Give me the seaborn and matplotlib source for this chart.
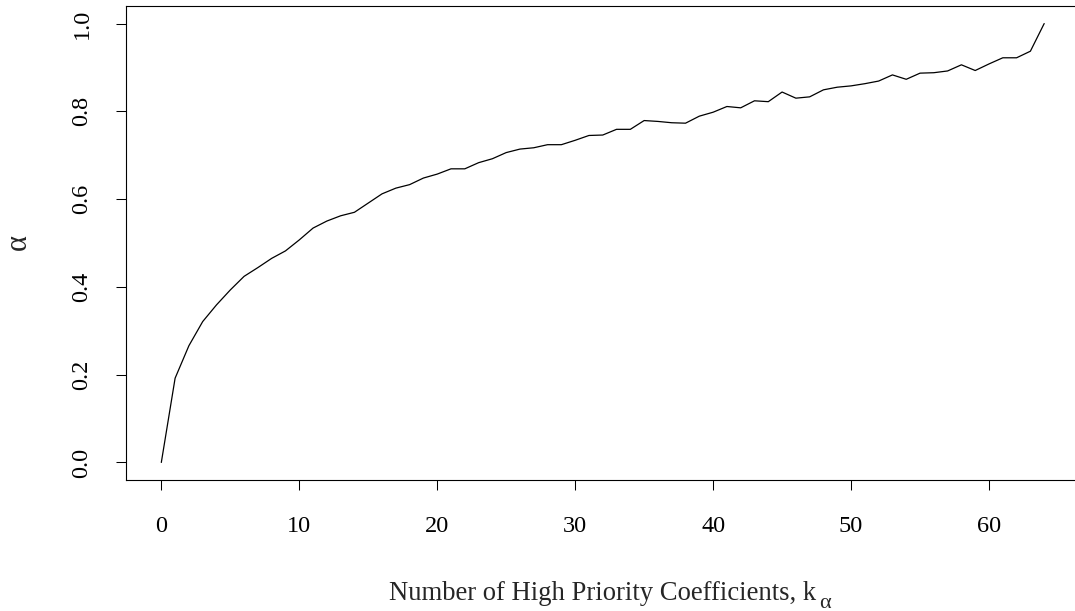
import numpy as np
import pandas as pd
import matplotlib
matplotlib.use("Agg")
import matplotlib.pyplot as plt
import seaborn as sns

# Fraction alpha reached for each number of high-priority coefficients
k_values = list(range(0, 65))
alpha_values = [
    0.000, 0.192, 0.266, 0.321, 0.359, 0.393, 0.424, 0.444, 0.465, 0.482,
    0.507, 0.534, 0.550, 0.562, 0.570, 0.591, 0.612, 0.625, 0.633, 0.648,
    0.657, 0.669, 0.669, 0.683, 0.692, 0.706, 0.714, 0.717, 0.724, 0.724,
    0.734, 0.745, 0.746, 0.759, 0.759, 0.779, 0.777, 0.774, 0.773, 0.789,
    0.798, 0.811, 0.808, 0.824, 0.822, 0.844, 0.830, 0.833, 0.849, 0.855,
    0.858, 0.863, 0.869, 0.883, 0.873, 0.887, 0.888, 0.892, 0.906, 0.893,
    0.908, 0.922, 0.922, 0.937, 1.000,
]
x_ticks = [0, 10, 20, 30, 40, 50, 60]
y_ticks = [0.0, 0.2, 0.4, 0.6, 0.8, 1.0]
y_tick_labels = ["0.0", "0.2", "0.4", "0.6", "0.8", "1.0"]
x_label = "Number of High Priority Coefficients, k"
x_label_sub = "α"
y_label = "α"

sns.set_style("ticks")
plt.rcParams["font.family"] = ["Liberation Serif", "DejaVu Serif"]

W, H = 1075, 611
fig = plt.figure(figsize=(W / 100, H / 100), dpi=100)
left, right, top, bottom = 126, 1079.5, 6, 480
ax = fig.add_axes([left / W, 1 - bottom / H, (right - left) / W, (bottom - top) / H])

df = pd.DataFrame({"k": k_values, "alpha": alpha_values})
sns.lineplot(data=df, x="k", y="alpha", ax=ax, color="black", linewidth=0.9)

ax.set_xlim(-2.56, 66.56)
ax.set_ylim(-0.04, 1.04)
ax.set_xticks(x_ticks)
ax.set_xticklabels([str(t) for t in x_ticks])
ax.set_yticks(y_ticks)
ax.set_yticklabels(y_tick_labels, rotation=90, va="center")

fs = 17.5
ax.tick_params(axis="both", direction="out", length=7.2, width=0.75,
               color="black", labelsize=fs, labelcolor="black")
ax.tick_params(axis="x", pad=19)
ax.tick_params(axis="y", pad=17)
for s in ax.spines.values():
    s.set_visible(True)
    s.set_linewidth(0.8)
    s.set_color("black")

ax.set_xlabel("")
ax.set_ylabel("")

# x-axis title with a lowered alpha subscript after the k
main = fig.text(389 / W, 1 - 600 / H, x_label, ha="left", va="baseline",
                fontsize=19.2)
fig.canvas.draw()
ext = main.get_window_extent(fig.canvas.get_renderer())
fig.text((ext.x1 + 3) / W, 1 - 608 / H, x_label_sub, ha="left",
         va="baseline", fontsize=16)

fig.text(18 / W, 1 - 242 / H, y_label, rotation=90, ha="center", va="center",
         fontsize=22)

fig.savefig("out.png", dpi=100, facecolor="white")
